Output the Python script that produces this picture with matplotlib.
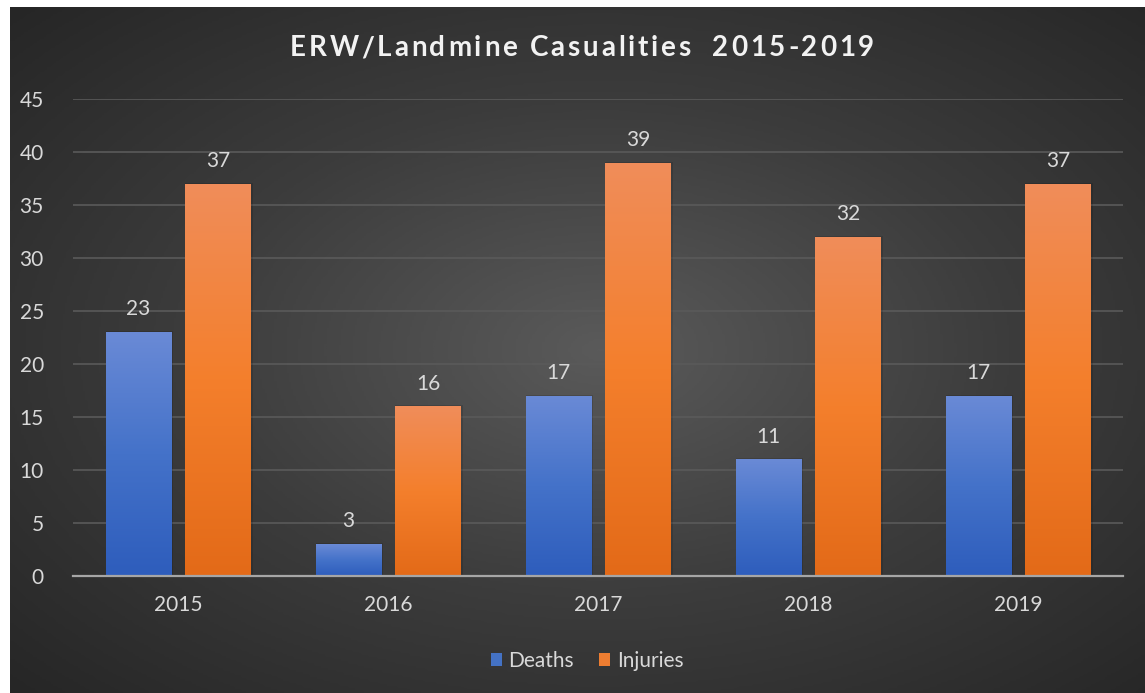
import numpy as np
import matplotlib
matplotlib.use("Agg")
import matplotlib.pyplot as plt
from matplotlib.colors import LinearSegmentedColormap
from matplotlib.patches import Patch

plt.rcParams['font.family'] = ['Lato', 'DejaVu Sans']

years = ['2015', '2016', '2017', '2018', '2019']
deaths = [23, 3, 17, 11, 17]
injuries = [37, 16, 39, 32, 37]
yticks = [0, 5, 10, 15, 20, 25, 30, 35, 40, 45]
title = 'ERW/Landmine Casualities  2015-2019'

W, H = 1145, 693
fig = plt.figure(figsize=(W / 100, H / 100), dpi=100, facecolor='white')

# dark radial background
bg = fig.add_axes([10 / W, 0, 1135 / W, 686 / H])
yy, xx = np.mgrid[0:1:300j, 0:1:500j]
r = np.sqrt(((xx - 0.52) / 0.75) ** 2 + ((yy - 0.5) / 0.75) ** 2)
r = np.clip(r, 0, 1)
bg_cmap = LinearSegmentedColormap.from_list('bg', ['#5a5a5a', '#3c3c3c', '#262626'])
bg.imshow(r, cmap=bg_cmap, aspect='auto', extent=(0, 1, 0, 1), origin='lower')
bg.set_axis_off()

ax = fig.add_axes([73 / W, 1 - 576 / H, 1050 / W, 477 / H])
ax.patch.set_alpha(0)

x = np.arange(len(years))
w = 0.31
off = 0.19

blue_cmap = LinearSegmentedColormap.from_list('b', ['#2e5dbc', '#4472c9', '#6a8ad6'])
orange_cmap = LinearSegmentedColormap.from_list('o', ['#e36a18', '#f47f2c', '#f08d5a'])
grad = np.linspace(0, 1, 256).reshape(-1, 1)


def gradient_bars(xs, vals, cmap):
    bars = ax.bar(xs, vals, width=w, color='none', edgecolor='none', zorder=3)
    for b in bars:
        x0, h = b.get_x(), b.get_height()
        # soft shadow
        ax.bar(x0 + w / 2 + 0.006, h + 0.1, width=w + 0.012, color='black',
               alpha=0.12, zorder=2, linewidth=0)
        im = ax.imshow(grad, cmap=cmap, aspect='auto', origin='lower',
                       extent=(x0, x0 + w, 0, h), zorder=3)
        im.set_clip_path(b)
        ax.text(x0 + w / 2, h + 1.2, str(int(h)), ha='center', va='bottom',
                color='#d9d9d9', fontsize=15)
    return bars


gradient_bars(x - off, deaths, blue_cmap)
gradient_bars(x + off, injuries, orange_cmap)

ax.set_xlim(-0.5, len(years) - 0.5)
ax.set_ylim(0, 45)
ax.set_yticks(yticks)
ax.set_xticks(x)
ax.set_xticklabels(years)
ax.tick_params(axis='both', length=0, colors='#d9d9d9', labelsize=15)
ax.tick_params(axis='y', pad=21)
ax.tick_params(axis='x', pad=14)
ax.grid(axis='y', color='#5a5a5a', linewidth=1.2, zorder=0)
ax.set_axisbelow(True)
for s in ['top', 'right', 'left']:
    ax.spines[s].set_visible(False)
ax.spines['bottom'].set_color('#a6a6a6')
ax.spines['bottom'].set_linewidth(1.6)
ax.spines['bottom'].set_zorder(4)

# title with letter spacing, placed char by char
renderer = fig.canvas.get_renderer()
tkw = dict(color='#f2f2f2', fontsize=20, fontweight='bold', va='center', ha='left')
spacing = 2.8
widths = []
for ch in title:
    t = fig.text(0, 0, ch if ch != ' ' else 'a a', **tkw)
    wd = t.get_window_extent(renderer).width
    if ch == ' ':
        t2 = fig.text(0, 0, 'aa', **tkw)
        wd = wd - t2.get_window_extent(renderer).width
        t2.remove()
    widths.append(wd)
    t.remove()
total = sum(widths) + spacing * (len(title) - 1)
cx = 582 - total / 2
for ch, wd in zip(title, widths):
    if ch != ' ':
        fig.text(cx / W, 1 - 48 / H, ch, **tkw)
    cx += wd + spacing

handles = [Patch(facecolor='#4472c4', label='Deaths'),
           Patch(facecolor='#ed7d31', label='Injuries')]
fig.legend(handles=handles, loc='center', bbox_to_anchor=(587 / W, 1 - 661 / H),
           ncol=2, frameon=False, fontsize=15, labelcolor='#d9d9d9',
           handlelength=0.55, handleheight=0.55, handletextpad=0.3, columnspacing=1.2)

fig.savefig('out.png', dpi=100, facecolor='white')
